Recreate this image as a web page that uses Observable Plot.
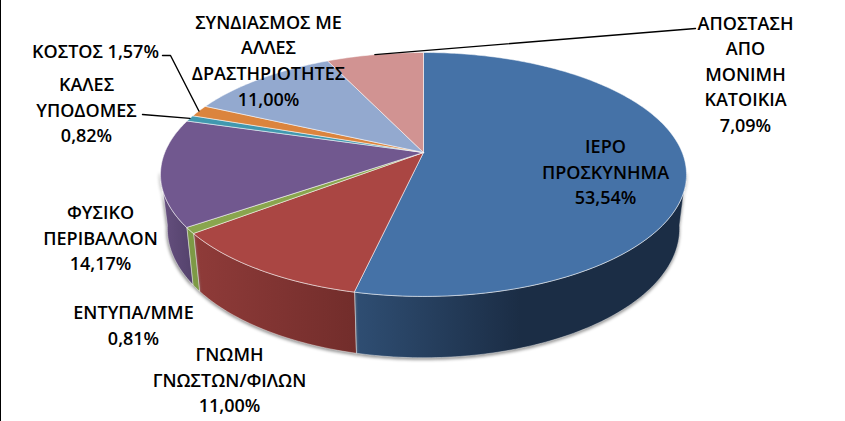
<!DOCTYPE html>
<html><head><meta charset="utf-8">
<script src="https://cdn.jsdelivr.net/npm/d3@7"></script>
<script src="https://cdn.jsdelivr.net/npm/@observablehq/plot@0.6"></script>
<style>html,body{margin:0;padding:0;background:#fff;overflow:hidden}</style>
</head><body><div id="chart"></div>
<script>
const categories = ["ΙΕΡΟ ΠΡΟΣΚΥΝΗΜΑ","ΓΝΩΜΗ ΓΝΩΣΤΩΝ/ΦΙΛΩΝ","ΕΝΤΥΠΑ/ΜΜΕ","ΦΥΣΙΚΟ ΠΕΡΙΒΑΛΛΟΝ","ΚΑΛΕΣ ΥΠΟΔΟΜΕΣ","ΚΟΣΤΟΣ","ΣΥΝΔΙΑΣΜΟΣ ΜΕ ΑΛΛΕΣ ΔΡΑΣΤΗΡΙΟΤΗΤΕΣ","ΑΠΟΣΤΑΣΗ ΑΠΟ ΜΟΝΙΜΗ ΚΑΤΟΙΚΙΑ"];
const values = [53.54,11.00,0.81,14.17,0.82,1.57,11.00,7.09];
const labelLines = [["ΙΕΡΟ","ΠΡΟΣΚΥΝΗΜΑ","53,54%"],["ΓΝΩΜΗ","ΓΝΩΣΤΩΝ/ΦΙΛΩΝ","11,00%"],["ΕΝΤΥΠΑ/ΜΜΕ","0,81%"],["ΦΥΣΙΚΟ","ΠΕΡΙΒΑΛΛΟΝ","14,17%"],["ΚΑΛΕΣ","ΥΠΟΔΟΜΕΣ","0,82%"],["ΚΟΣΤΟΣ 1,57%"],["ΣΥΝΔΙΑΣΜΟΣ ΜΕ","ΑΛΛΕΣ","ΔΡΑΣΤΗΡΙΟΤΗΤΕΣ","11,00%"],["ΑΠΟΣΤΑΣΗ","ΑΠΟ","ΜΟΝΙΜΗ","ΚΑΤΟΙΚΙΑ","7,09%"]];
const topColors = ["#4572A7","#AA4643","#89A54E","#71588F","#4198AF","#DB843D","#93A9CF","#D19392"];
const wallFrom = ["#2f4e73","#8f3b39","#7d9a45","#66507f"];
const wallTo = ["#1b2d45","#722d2b","#7d9a45","#54426c"];
const labelX = [605,229,133,100,86,95,268,745];
const labelY = [170,378,323.5,236,108,49,58.5,72];
const leaders = [{slice:4,from:[[142,114]]},{slice:5,from:[[162,55],[170,55]]},{slice:7,from:[[695,28]]}];

// projection of the tilted disc
const CX=423, P=0.18;
const top_={a:258.7,c:152,k:118}, base={a:252,c:204.6,k:125.2};
const rim=(pct,pl)=>{const t=pct/100*2*Math.PI,X=Math.sin(t),Y=Math.cos(t),d=1+P*Y;return {x:CX+pl.a*X/d,y:pl.c-pl.k*Y/d};};
const cum=[];values.reduce((s,v,i)=>(cum[i]=[s,s+v],s+v),0);
const arc=(a,b,pl)=>{const n=Math.max(2,Math.ceil((b-a)*4));return d3.range(n+1).map(i=>rim(a+(b-a)*i/n,pl));};

const topPolys=[],wallPolys=[];
const visFrom=27.5, visTo=72.5;
cum.forEach(([a,b],i)=>{
  topPolys.push(...[{x:CX,y:top_.c},...arc(a,b,top_),{x:CX,y:top_.c}].map(p=>({...p,i})));
  const s=Math.max(a,visFrom),e=Math.min(b,visTo);
  if(e>s) wallPolys.push(...[...arc(s,e,top_),...arc(s,e,base).reverse()].map(p=>({...p,i})));
});
const leaderPts=leaders.flatMap((l,j)=>{const [a,b]=cum[l.slice];const tip=rim((a+b)/2,top_);
  return [...l.from.map(([x,y])=>({x,y,j})),{...tip,j}];});
const labelPts=labelLines.map((lines,i)=>({text:lines.join("\n"),x:labelX[i],y:labelY[i]}));

const defs=()=>{const d=d3.create("svg:defs");
  wallFrom.forEach((c,i)=>{const g=d.append("linearGradient").attr("id","wall"+i).attr("x1",0).attr("x2",1).attr("y1",0).attr("y2",0);
    g.append("stop").attr("offset",0).attr("stop-color",c);
    g.append("stop").attr("offset",i===0?0.5:1).attr("stop-color",wallTo[i]);});
  return d.node();};

const fontFamily="'Open Sans','Noto Sans',sans-serif";
const chart=Plot.plot({
  width:845,height:421,margin:0,
  x:{domain:[0,845],range:[0,845],axis:null},
  y:{domain:[0,421],range:[0,421],axis:null},
  style:{background:"#fff"},
  marks:[
    defs,
    Plot.ruleX([0],{stroke:"#000",strokeWidth:1}),
    Plot.line(wallPolys.filter(p=>p.i===0),{x:"x",y:"y",fill:"url(#wall0)",stroke:"#fff",strokeWidth:0.6,strokeOpacity:0.7,curve:"linear-closed",imageFilter:"drop-shadow(0 2px 1.5px #9a9a9a)"}),
    Plot.line(wallPolys.filter(p=>p.i===1),{x:"x",y:"y",fill:"url(#wall1)",stroke:"#fff",strokeWidth:0.6,strokeOpacity:0.7,curve:"linear-closed",imageFilter:"drop-shadow(0 2px 1.5px #9a9a9a)"}),
    Plot.line(wallPolys.filter(p=>p.i===2),{x:"x",y:"y",fill:"url(#wall2)",stroke:"#fff",strokeWidth:0.6,strokeOpacity:0.7,curve:"linear-closed",imageFilter:"drop-shadow(0 2px 1.5px #9a9a9a)"}),
    Plot.line(wallPolys.filter(p=>p.i===3),{x:"x",y:"y",fill:"url(#wall3)",stroke:"#fff",strokeWidth:0.6,strokeOpacity:0.7,curve:"linear-closed",imageFilter:"drop-shadow(-1px 2px 1.5px #9a9a9a)"}),
    ...topColors.map((c,i)=>Plot.line(topPolys.filter(p=>p.i===i),{x:"x",y:"y",fill:c,stroke:"#fff",strokeWidth:0.7,strokeOpacity:0.75,curve:"linear-closed"})),
    Plot.line(leaderPts,{x:"x",y:"y",z:"j",stroke:"#000",strokeWidth:1.4}),
    Plot.text(labelPts,{x:"x",y:"y",text:"text",fontSize:18,fontFamily,fontWeight:600,fill:"#000",lineHeight:1.42,textAnchor:"middle"})
  ]
});
document.getElementById("chart").appendChild(chart);
</script></body></html>
